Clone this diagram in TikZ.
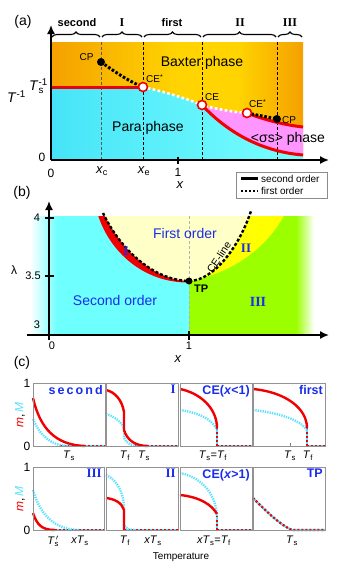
\documentclass[tikz,border=0pt]{standalone}
\usepackage{fontspec}
\setmainfont{Liberation Sans}
\newfontfamily\serifrm{Liberation Serif}
\usetikzlibrary{arrows.meta,decorations.pathreplacing}
\newcommand{\myfs}[1]{\fontsize{#1}{#1}\selectfont}
\definecolor{orA}{RGB}{245,160,0}
\definecolor{yelA}{RGB}{255,212,0}
\definecolor{paraL}{RGB}{70,228,248}
\definecolor{paraC}{RGB}{120,255,255}
\definecolor{pinkC}{RGB}{255,150,255}
\definecolor{cyanB}{RGB}{110,255,255}
\definecolor{greenB}{RGB}{155,255,0}
\definecolor{yelB}{RGB}{255,255,0}
\definecolor{firstC}{RGB}{255,255,200}
\definecolor{blueT}{RGB}{25,45,235}
\definecolor{cyanD}{RGB}{90,225,255}
\definecolor{redC}{RGB}{240,0,0}
\pgfdeclarehorizontalshading{baxter}{100bp}{color(0bp)=(orA); color(25bp)=(orA); color(50bp)=(yelA); color(62bp)=(yelA); color(75bp)=(orA); color(100bp)=(orA)}
\begin{document}
\begin{tikzpicture}[x=1pt,y=-1pt,
  ax/.style={line width=1.6,-{Latex[length=9,width=8]}},
  redl/.style={redC,line width=3},
  blkdot/.style={black,line width=3,dash pattern=on 2.6 off 1.8},
  whtdot/.style={white,line width=2.6,dash pattern=on 2.6 off 2.4},
  vdash/.style={black,line width=0.8,dash pattern=on 3 off 2},
  cpdot/.style={circle,fill=black,inner sep=0pt,minimum size=8},
  cedot/.style={circle,fill=white,draw=redC,line width=1.6,inner sep=0pt,minimum size=9},
  brc/.style={decorate,decoration={brace,amplitude=5},line width=1.1},
  bl/.style={font=\myfs{11}\bfseries},
  rn/.style={font=\myfs{12}\serifrm\bfseries},
  pbox/.style={draw=gray!85,line width=1},
  mline/.style={redC,line width=2.4},
  Mline/.style={cyanD,line width=2.4,dash pattern=on 1.3 off 1.1},
  zl/.style={draw=redC,line width=2.2,dash pattern=on 2 off 2,preaction={draw=cyanD,line width=2.2,solid}},
  ttl/.style={font=\myfs{12.5}\bfseries,text=blueT,anchor=north east,inner sep=2pt},
  ttr/.style={font=\myfs{13}\serifrm\bfseries,text=blueT,anchor=north east,inner sep=2pt},
  tl/.style={font=\myfs{11}},
]
\useasboundingbox (0,0) rectangle (339,576);
% ---------------- panel (a)
\node[font=\myfs{14}] (la) at (23,22) {(a)};
\shade[shading=baxter] (51,42) rectangle (303,160);
\shade[left color=paraL,right color=paraC] (51,87) -- (143,87) .. controls (165,92) and (185,98) .. (202,105)
   .. controls (230,135) and (265,152) .. (303,155) -- (303,160) -- (51,160) -- cycle;
\fill[pinkC] (202,105) .. controls (220,110) and (235,112) .. (247,113) .. controls (265,120) and (285,125) .. (303,127)
   -- (303,155) .. controls (265,152) and (230,135) .. (202,105) -- cycle;
\draw[vdash,gray!70!black] (101,42) -- (101,160);
\draw[vdash] (143,42) -- (143,160);
\draw[vdash] (202,42) -- (202,160);
\draw[vdash] (277,42) -- (277,160);
\draw[redl] (51,87) -- (143,87);
\draw[whtdot] (143,87) .. controls (165,92) and (185,98) .. (202,105) .. controls (220,110) and (235,112) .. (247,113);
\draw[redl] (202,105) .. controls (230,135) and (265,152) .. (303,155);
\draw[redl] (247,113) .. controls (265,120) and (285,125) .. (303,127);
\draw[blkdot] (101,62) .. controls (115,72) and (130,82) .. (143,87);
\draw[blkdot] (247,113) -- (277,119);
\node[cpdot] (cp1) at (101,62) {};
\node[cpdot] (cp2) at (277,119) {};
\node[cedot] (ces1) at (143,87) {};
\node[cedot] (ce) at (202,105) {};
\node[cedot] (ces2) at (247,113) {};
\node[font=\myfs{10},anchor=east] (tcp1) at (97,57) {CP};
\node[font=\myfs{10},anchor=south west,inner sep=1pt] (tces1) at (145,84) {CE\textsuperscript{*}};
\node[font=\myfs{10},anchor=south west,inner sep=1pt] (tce) at (204,102) {CE};
\node[font=\myfs{10},anchor=south west,inner sep=1pt] (tces2) at (248,109) {CE\textsuperscript{*}};
\node[font=\myfs{10},anchor=west,inner sep=1pt] (tcp2) at (281,120) {CP};
\node[font=\myfs{14}] (tbax) at (202,63) {Baxter phase};
\node[font=\myfs{14}] (tpara) at (148,128) {Para phase};
\node[font=\myfs{14}] (tsig) at (288,139) {<σs> phase};
\draw[ax] (51,160) -- (51,25);
\draw[ax] (51,160) -- (329,160);
\draw[line width=1.2] (178,157) -- (178,164);
\node[font=\myfs{14},anchor=east,inner sep=1pt] (tsm) at (49,86) {\textit{T}\rlap{\textsubscript{s}}\textsuperscript{-1}};
\node[font=\myfs{14},anchor=east,inner sep=1pt] (tinv) at (27,97) {\textit{T}\textsuperscript{-1}};
\node[font=\myfs{12}] (z1) at (42,157) {0};
\node[font=\myfs{12}] (z2) at (51,173) {0};
\node[font=\myfs{13}] (xc) at (102,171) {\textit{x}\textsubscript{c}};
\node[font=\myfs{13}] (xe) at (144,171) {\textit{x}\textsubscript{e}};
\node[font=\myfs{12}] (one) at (178,172) {1};
\node[font=\myfs{13}] (xa) at (180,185) {\textit{x}};
\draw[brc] (52,37) -- (100,37);
\draw[brc] (102,37) -- (142,37);
\draw[brc] (144,37) -- (201,37);
\draw[brc] (203,37) -- (276,37);
\draw[brc] (278,37) -- (302,37);
\node[bl] (bsec) at (77,23) {second};
\node[rn] (bI) at (122,23) {I};
\node[bl] (bfir) at (172,23) {first};
\node[rn] (bII) at (240,23) {II};
\node[rn] (bIII) at (290,23) {III};
\draw[draw=gray!90,line width=0.9,fill=white] (236,172) rectangle (327,198);
\draw[line width=2.4] (241,178.5) -- (258,178.5);
\draw[line width=2.4,dash pattern=on 2.4 off 1.6] (241,191) -- (258,191);
\node[font=\myfs{10},anchor=west,inner sep=1pt] (lg1) at (260,178.5) {second order};
\node[font=\myfs{10},anchor=west,inner sep=1pt] (lg2) at (260,191) {first order};
% ---------------- panel (b)
\node[font=\myfs{14}] (lb) at (22,193) {(b)};
\fill[cyanB] (49,216) rectangle (189,335);
\shade[left color=white,right color=cyanB] (30,216) rectangle (58,335);
\fill[greenB] (189,216) rectangle (298,335);
\shade[left color=greenB,right color=white] (296,216) rectangle (314,335);
\begin{scope}
\clip (0,216) rectangle (339,335);
\fill[firstC] (103,212) .. controls (118,245) and (150,280) .. (189,281) .. controls (212,281) and (238,250) .. (251,212) -- cycle;
\fill[yelB] (189,281) .. controls (212,281) and (238,250) .. (251,212) -- (286,212) .. controls (272,240) and (240,272) .. (189,281) -- cycle;
\fill[redC] (97,212) .. controls (109,253) and (145,283) .. (189,282.5) -- (189,281) .. controls (150,280) and (118,245) .. (103,212) -- cycle;
\end{scope}
\draw[gray!60,line width=1,dash pattern=on 3 off 2] (189,216) -- (189,335);
\draw[black,line width=2.4,dash pattern=on 3 off 2] (103,213) .. controls (118,245) and (150,280) .. (189,281);
\draw[black,line width=2.4,dash pattern=on 3 off 2] (189,281) .. controls (212,281) and (238,250) .. (251,211);
\node[circle,fill=black,inner sep=0pt,minimum size=7] (tp) at (189,281) {};
\node[font=\myfs{11}\bfseries,anchor=north west,inner sep=1pt] (ttp) at (193,284) {TP};
\node[font=\myfs{14},text=blueT] (tfo) at (185,233) {First order};
\node[font=\myfs{14},text=blueT] (tso) at (115,300) {Second order};
\node[font=\myfs{10.5},rotate=56,inner sep=0pt] (tcel) at (219,257) {CE-line};
\node[font=\myfs{13}\serifrm\bfseries,text=blueT] (rI) at (126,251) {I};
\node[font=\myfs{13}\serifrm\bfseries,text=blueT] (rII) at (246,248) {II};
\node[font=\myfs{14}\serifrm\bfseries,text=blueT] (rIII) at (258,302) {III};
\draw[ax] (49,340) -- (49,201);
\draw[ax] (27,335) -- (329,335);
\draw[line width=1.2] (45,218) -- (54,218);
\draw[line width=1.2] (45,276) -- (54,276);
\draw[line width=1.2] (189,331) -- (189,340);
\node[font=\myfs{11}] (l4) at (37,218) {4};
\node[font=\myfs{11}] (l35) at (33,276) {3.5};
\node[font=\myfs{11}] (l3) at (37,325) {3};
\node[font=\myfs{12}] (lam) at (14,270) {λ};
\node[font=\myfs{11}] (b0) at (52,346) {0};
\node[font=\myfs{11}] (b1) at (189,346) {1};
\node[font=\myfs{13}] (bx) at (178,359) {\textit{x}};
% ---------------- panel (c)
\node[font=\myfs{14}] (lc) at (22,363) {(c)};
\foreach \yt/\yb in {383/446,467/530}{
  \node[font=\myfs{12}] at (27,\yt) {1};
  \node[font=\myfs{12}] at (27,\yb) {0};
}
\node[font=\myfs{12},rotate=90] (ml1) at (20,415) {\textcolor{redC}{\textit{m}},\,\textcolor{cyanD}{\textit{M}}};
\node[font=\myfs{12},rotate=90] (ml2) at (20,499) {\textcolor{redC}{\textit{m}},\,\textcolor{cyanD}{\textit{M}}};
% box 1 second
\draw[zl] (60,446) -- (105,446);
\draw[Mline] (33,419) .. controls (40,435) and (50,446) .. (70,446);
\draw[mline] (33,398) .. controls (40,428) and (55,445) .. (85,446);
\draw[pbox] (33,383) rectangle (105,446);
\node[ttl] (t1) at (105,383) {s\,e\,c\,o\,n\,d};
\node[tl] at (69,456) {\textit{T}\textsubscript{s}};
% box 2 I
\draw[zl] (135,446) -- (178,446);
\draw[Mline] (106,414) .. controls (113,416) and (120,420) .. (124,428) -- (124,438) .. controls (127,444) and (132,446) .. (140,446);
\draw[mline] (106,390) .. controls (115,392) and (122,400) .. (124,412) -- (124,430) .. controls (127,440) and (135,446) .. (148,446);
\draw[pbox] (106,383) rectangle (178,446);
\node[ttr] (t2) at (178,383) {I};
\node[tl] at (125,456) {\textit{T}\textsubscript{f}};
\node[tl] at (144,456) {\textit{T}\textsubscript{s}};
% box 3 CE(x<1)
\draw[zl] (217,446) -- (252,446);
\draw[zl] (217,428) -- (217,446);
\draw[Mline] (180,410) .. controls (200,413) and (213,420) .. (217,430);
\draw[mline] (180,389) .. controls (200,393) and (217,408) .. (217,428);
\draw[pbox] (180,383) rectangle (252,446);
\node[ttl] (t3) at (252,383) {CE(\textit{x}<1)};
\node[tl] at (213,456) {\textit{T}\textsubscript{s}=\textit{T}\textsubscript{f}};
% box 4 first
\draw[zl] (307,446) -- (325,446);
\draw[zl] (307,428) -- (307,446);
\draw[Mline] (253,410) .. controls (280,413) and (300,420) .. (307,430);
\draw[mline] (253,389) .. controls (285,392) and (307,408) .. (307,428);
\draw[pbox] (253,383) rectangle (325,446);
\draw[gray,line width=0.6] (290,443) -- (290,446);
\node[ttl] (t4) at (325,383) {first};
\node[tl] at (290,456) {\textit{T}\textsubscript{s}};
\node[tl] at (308,456) {\textit{T}\textsubscript{f}};
% box 1 III
\draw[zl] (55,530) -- (104,530);
\draw[Mline] (33,490) .. controls (40,515) and (55,530) .. (80,530);
\draw[mline] (33,513) .. controls (37,525) and (42,530) .. (55,530);
\draw[pbox] (33,467) rectangle (104,530);
\node[ttr] (t5) at (104,467) {III};
\node[tl] at (53,541) {\textit{T}\rlap{\textsubscript{s}}\textsuperscript{\,$\prime$}};
\node[tl] at (80,541) {\textit{xT}\textsubscript{s}};
% box 2 II
\draw[zl] (124,530) -- (178,530);
\draw[Mline] (106,475) .. controls (118,480) and (124,495) .. (124,508) -- (124,525) .. controls (126,529) and (130,530) .. (136,530);
\draw[mline] (106,498) .. controls (115,499) and (122,503) .. (124,510) -- (124,530);
\draw[pbox] (106,467) rectangle (178,530);
\node[ttr] (t6) at (178,467) {II};
\node[tl] at (125,541) {\textit{T}\textsubscript{f}};
\node[tl] at (153,541) {\textit{xT}\textsubscript{s}};
% box 3 CE(x>1)
\draw[zl] (217,530) -- (252,530);
\draw[zl] (217,516) -- (217,530);
\draw[Mline] (180,473) .. controls (205,478) and (217,498) .. (217,518);
\draw[mline] (180,495) .. controls (200,497) and (212,505) .. (217,514);
\draw[pbox] (180,467) rectangle (252,530);
\node[ttl] (t7) at (252,467) {CE(\textit{x}>1)};
\node[tl] at (214,541) {\textit{xT}\textsubscript{s}=\textit{T}\textsubscript{f}};
% box 4 TP
\draw[zl] (253,498) .. controls (265,510) and (280,525) .. (292,530) -- (325,530);
\draw[pbox] (253,467) rectangle (325,530);
\node[ttl] (t8) at (325,467) {TP};
\node[tl] at (292,541) {\textit{T}\textsubscript{s}};
\node[font=\myfs{10}] (temp) at (181,557) {Temperature};
\end{tikzpicture}
\end{document}
